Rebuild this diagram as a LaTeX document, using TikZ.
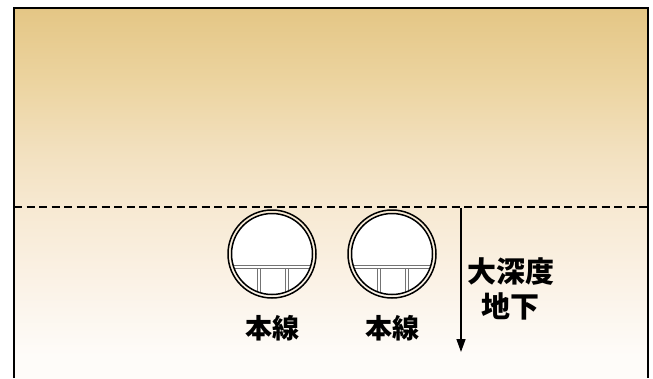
\documentclass[tikz,border=0pt]{standalone}
\usepackage{fontspec}
\newfontfamily\jpfont{Noto Sans CJK JP}
\usetikzlibrary{arrows.meta}

% ground colours, darker near the surface
\definecolor{groundtop}{RGB}{228,198,133}
\definecolor{groundhi}{RGB}{236,212,160}
\definecolor{groundmid}{RGB}{242,224,190}
\definecolor{groundline}{RGB}{247,233,210}
\definecolor{groundlow}{RGB}{251,243,232}
\definecolor{groundbot}{RGB}{254,252,249}
\definecolor{deckgray}{RGB}{115,115,115}
\pgfdeclareverticalshading{ground}{100bp}{color(0bp)=(groundbot); color(28bp)=(groundbot);
  color(37bp)=(groundlow); color(48bp)=(groundline); color(56bp)=(groundmid);
  color(65bp)=(groundhi); color(75bp)=(groundtop); color(100bp)=(groundtop)}

\tikzset{
  frameline/.style={line width=1.8pt},
  label/.style={font=\jpfont\bfseries\fontsize{27}{27}\selectfont, inner sep=0pt},
  sidelabel/.style={label, font=\jpfont\bfseries\fontsize{29}{29}\selectfont},
  tunnel/.pic={
    \fill[white] (0,0) circle (41);
    \begin{scope}
      \clip (0,0) circle (40);
      \draw[deckgray, line width=1pt] (-45,11) -- (45,11) (-45,14.5) -- (45,14.5);
      \draw[deckgray, line width=1pt] (-15,14.5) -- (-15,45) (-12,14.5) -- (-12,45)
        (13,14.5) -- (13,45) (16,14.5) -- (16,45);
    \end{scope}
    \draw[line width=1.5pt] (0,0) circle (44) (0,0) circle (40.5);
  }
}

\begin{document}
\begin{tikzpicture}[x=1pt, y=-1pt, >={Triangle[width=9pt,length=13pt]}]
  \useasboundingbox (0,0) rectangle (653,378);
  \fill[white] (0,0) rectangle (653,378);
  \shade[shading=ground] (14,8) rectangle (648,378);
  \draw[frameline] (14,378) -- (14,8) -- (648,8) -- (648,378);

  % boundary of the deep underground zone
  \draw[line width=1.3pt, dash pattern=on 8pt off 4.5pt] (14,207) -- (648,207);

  % two main-line tunnels
  \pic at (272,254) {tunnel};
  \pic at (392,254) {tunnel};
  \node[label] (line1) at (272,328) {本線};
  \node[label] (line2) at (392,328) {本線};

  % depth arrow
  \coordinate (depthtop) at (461,208);
  \coordinate (depthbot) at (461,352);
  \draw[->, line width=1.4pt] (depthtop) -- (depthbot);
  \node[sidelabel] (deep) at (511,272) {大深度};
  \node[sidelabel] (under) at (510,306) {地下};
\end{tikzpicture}
\end{document}
